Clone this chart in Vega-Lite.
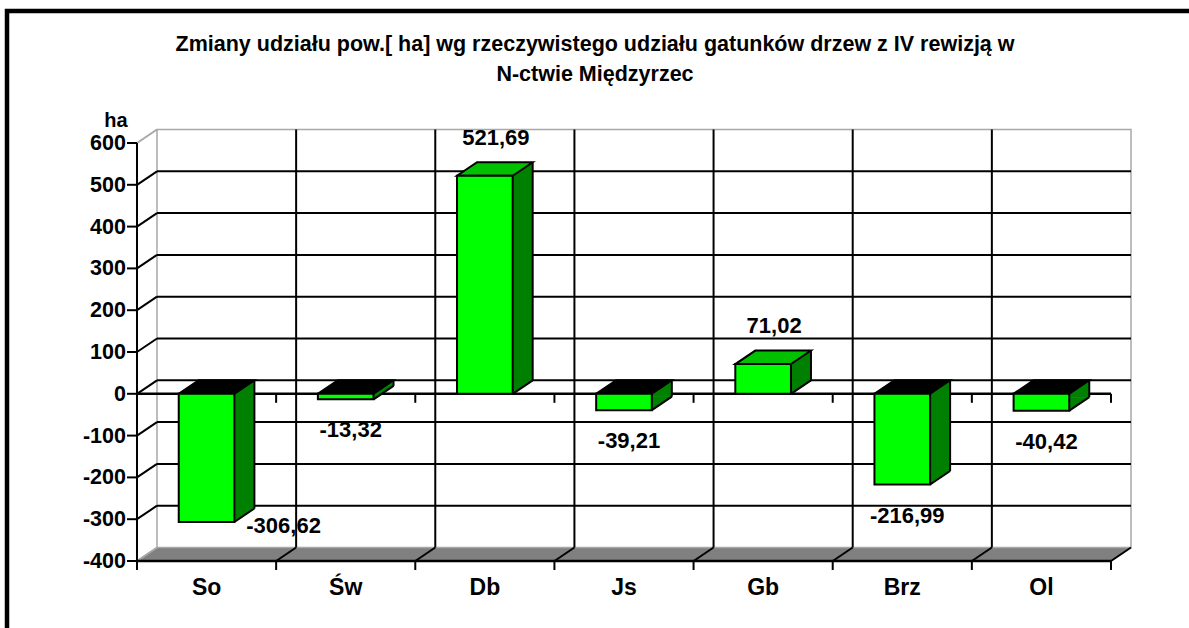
{
  "$schema": "https://vega.github.io/schema/vega-lite/v6.json",
  "width": 1200,
  "height": 630,
  "autosize": {"type": "none"},
  "padding": {"left": 7, "top": 11, "right": 0, "bottom": 0},
  "background": "white",
  "title": {
    "text": ["Zmiany udziału pow.[ ha] wg rzeczywistego udziału gatunków drzew  z IV rewizją w", "N-ctwie Międzyrzec"],
    "anchor": "middle", "font": "Liberation Sans", "fontSize": 21.5, "fontWeight": "bold", "color": "black",
    "lineHeight": 30, "baseline": "top", "offset": -20, "dy": 54, "dx": -12
  },
  "datasets": {
    "bars": [
      {"cat": "So", "v": -306.62},
      {"cat": "Św", "v": -13.32},
      {"cat": "Db", "v": 521.69},
      {"cat": "Js", "v": -39.21},
      {"cat": "Gb", "v": 71.02},
      {"cat": "Brz", "v": -216.99},
      {"cat": "Ol", "v": -40.42}
    ],
    "grid": [
      {"g": -400}, {"g": -300}, {"g": -200}, {"g": -100}, {"g": 0}, {"g": 100},
      {"g": 200}, {"g": 300}, {"g": 400}, {"g": 500}, {"g": 600}
    ]
  },
  "config": {
    "font": "Liberation Sans",
    "view": {"stroke": "black", "strokeWidth": 4.5, "fill": "white"},
    "locale": {"number": {"decimal": ",", "thousands": " ", "grouping": [3], "currency": ["", " zł"], "minus": "-"}}
  },
  "layer": [
    {
      "data": {"name": "bars"},
      "transform": [{"filter": "datum.cat === 'So'"}],
      "mark": {"type": "point", "shape": "M0,0L974,0L994,-13.5L20,-13.5Z", "size": 4, "filled": true, "fill": "#808080", "stroke": "#808080", "strokeWidth": 1, "opacity": 1},
      "encoding": {
        "x": {"field": "cat", "type": "nominal", "bandPosition": 0,
          "scale": {"domain": ["So", "Św", "Db", "Js", "Gb", "Brz", "Ol"], "paddingInner": 0, "paddingOuter": 0.8121, "align": 0.5752, "round": false},
          "axis": null},
        "y": {"datum": -400, "type": "quantitative", "scale": {"domain": [-591.388, 915.789], "nice": false, "zero": false}, "axis": null}
      }
    },
    {
      "data": {"name": "bars"},
      "transform": [{"filter": "datum.cat === 'So'"}],
      "mark": {"type": "rect", "filled": false, "stroke": "#a8a8a8", "strokeWidth": 1.5, "xOffset": 20, "x2Offset": 20, "yOffset": -13.5, "y2Offset": -13.5},
      "encoding": {
        "x": {"datum": "So", "type": "nominal", "bandPosition": 0, "axis": null},
        "x2": {"datum": "Ol", "bandPosition": 1},
        "y": {"datum": -400, "type": "quantitative", "axis": null},
        "y2": {"datum": 600}
      }
    },
    {
      "data": {"name": "grid"},
      "transform": [{"filter": "datum.g > -400 && datum.g < 600"}],
      "mark": {"type": "rule", "stroke": "black", "strokeWidth": 2, "xOffset": 20, "x2Offset": 20, "yOffset": -13.5},
      "encoding": {
        "x": {"datum": "So", "type": "nominal", "bandPosition": 0, "axis": null},
        "x2": {"datum": "Ol", "bandPosition": 1},
        "y": {"field": "g", "type": "quantitative", "axis": null}
      }
    },
    {
      "data": {"name": "grid"},
      "mark": {"type": "point", "shape": "M0,0L20,-13.5", "size": 4, "filled": false, "strokeWidth": 2, "opacity": 1},
      "encoding": {
        "x": {"datum": "So", "type": "nominal", "bandPosition": 0, "axis": null},
        "y": {"field": "g", "type": "quantitative", "axis": null},
        "stroke": {"condition": {"test": "datum.g === 600 || datum.g === -400", "value": "#a8a8a8"}, "value": "black"}
      }
    },
    {
      "data": {"name": "grid"},
      "mark": {"type": "rule", "stroke": "black", "strokeWidth": 2, "xOffset": -10},
      "encoding": {
        "x": {"datum": "So", "type": "nominal", "bandPosition": 0, "axis": null},
        "x2": {"datum": "So", "bandPosition": 0},
        "y": {"field": "g", "type": "quantitative", "axis": null}
      }
    },
    {
      "data": {"name": "grid"},
      "mark": {"type": "text", "fontSize": 21.5, "fontWeight": "bold", "color": "black", "align": "right", "baseline": "middle", "dx": -11, "dy": 1},
      "encoding": {
        "x": {"datum": "So", "type": "nominal", "bandPosition": 0, "axis": null},
        "y": {"field": "g", "type": "quantitative", "axis": null},
        "text": {"field": "g", "type": "quantitative", "format": "d"}
      }
    },
    {
      "data": {"name": "bars"},
      "transform": [{"filter": "datum.cat === 'So'"}],
      "mark": {"type": "text", "text": "ha", "fontSize": 20, "fontWeight": "bold", "color": "black", "align": "center", "baseline": "middle", "dx": -21, "dy": -22},
      "encoding": {
        "x": {"datum": "So", "type": "nominal", "bandPosition": 0, "axis": null},
        "y": {"datum": 600, "type": "quantitative", "axis": null}
      }
    },
    {
      "data": {"name": "bars"},
      "transform": [{"filter": "datum.cat !== 'Ol'"}],
      "mark": {"type": "rule", "stroke": "black", "strokeWidth": 2, "xOffset": 20, "yOffset": -13.5, "y2Offset": -13.5},
      "encoding": {
        "x": {"field": "cat", "type": "nominal", "bandPosition": 1, "axis": null},
        "y": {"datum": -400, "type": "quantitative", "axis": null},
        "y2": {"datum": 600}
      }
    },
    {
      "data": {"name": "bars"},
      "mark": {"type": "point", "shape": "M0,0L20,-13.5", "size": 4, "filled": false, "stroke": "black", "strokeWidth": 2, "opacity": 1},
      "encoding": {
        "x": {"field": "cat", "type": "nominal", "bandPosition": 1, "axis": null},
        "y": {"datum": -400, "type": "quantitative", "axis": null}
      }
    },
    {
      "data": {"name": "bars"},
      "transform": [{"filter": "datum.cat === 'So'"}],
      "mark": {"type": "rule", "stroke": "black", "strokeWidth": 2, "y2Offset": 9},
      "encoding": {
        "x": {"datum": "So", "type": "nominal", "bandPosition": 0, "axis": null},
        "y": {"datum": 600, "type": "quantitative", "axis": null},
        "y2": {"datum": -400}
      }
    },
    {
      "data": {"name": "bars"},
      "mark": {"type": "rule", "stroke": "black", "strokeWidth": 2, "y2Offset": 9},
      "encoding": {
        "x": {"field": "cat", "type": "nominal", "bandPosition": 1, "axis": null},
        "y": {"datum": -400, "type": "quantitative", "axis": null},
        "y2": {"datum": -400}
      }
    },
    {
      "data": {"name": "bars"},
      "mark": {"type": "text", "fontSize": 23, "fontWeight": "bold", "color": "black", "align": "center", "baseline": "middle", "dy": 27},
      "encoding": {
        "x": {"field": "cat", "type": "nominal", "bandPosition": 0.5, "axis": null},
        "y": {"datum": -400, "type": "quantitative", "axis": null},
        "text": {"field": "cat", "type": "nominal"}
      }
    },
    {
      "data": {"name": "grid"},
      "transform": [{"filter": "datum.g === -400 || datum.g === 0"}],
      "mark": {"type": "rule", "stroke": "black", "strokeWidth": 2.5},
      "encoding": {
        "x": {"datum": "So", "type": "nominal", "bandPosition": 0, "axis": null},
        "x2": {"datum": "Ol", "bandPosition": 1},
        "y": {"field": "g", "type": "quantitative", "axis": null}
      }
    },
    {
      "data": {"name": "bars"},
      "mark": {"type": "rule", "stroke": "black", "strokeWidth": 2, "y2Offset": 9},
      "encoding": {
        "x": {"field": "cat", "type": "nominal", "bandPosition": 1, "axis": null},
        "y": {"datum": 0, "type": "quantitative", "axis": null},
        "y2": {"datum": 0}
      }
    },
    {
      "data": {"name": "bars"},
      "mark": {"type": "rect", "fill": "#008000", "x2Offset": 20, "yOffset": -13.5, "y2Offset": -13.5},
      "encoding": {
        "x": {"field": "cat", "type": "nominal", "bandPosition": 0.7, "axis": null},
        "x2": {"field": "cat", "bandPosition": 0.7},
        "y": {"field": "v", "type": "quantitative", "axis": null},
        "y2": {"datum": 0}
      }
    },
    {
      "data": {"name": "bars"},
      "transform": [{"filter": "datum.v > 0"}],
      "mark": {"type": "point", "shape": "M0,0L0,-13.5L20,-13.5Z", "size": 4, "filled": true, "fill": "#008000", "stroke": "#008000", "strokeWidth": 1, "opacity": 1},
      "encoding": {
        "x": {"field": "cat", "type": "nominal", "bandPosition": 0.7, "axis": null},
        "y": {"datum": 0, "type": "quantitative", "axis": null}
      }
    },
    {
      "data": {"name": "bars"},
      "transform": [{"filter": "datum.v < 0"}],
      "mark": {"type": "point", "shape": "M0,0L0,-13.5L20,-13.5Z", "size": 4, "filled": true, "fill": "#008000", "stroke": "#008000", "strokeWidth": 1, "opacity": 1},
      "encoding": {
        "x": {"field": "cat", "type": "nominal", "bandPosition": 0.7, "axis": null},
        "y": {"field": "v", "type": "quantitative", "axis": null}
      }
    },
    {
      "data": {"name": "bars"},
      "mark": {"type": "rule", "stroke": "black", "strokeWidth": 2, "xOffset": 20, "yOffset": -13.5, "y2Offset": -13.5},
      "encoding": {
        "x": {"field": "cat", "type": "nominal", "bandPosition": 0.7, "axis": null},
        "y": {"field": "v", "type": "quantitative", "axis": null},
        "y2": {"datum": 0}
      }
    },
    {
      "data": {"name": "bars"},
      "transform": [{"filter": "datum.v > 0"}],
      "mark": {"type": "point", "shape": "M0,0L20,-13.5", "size": 4, "filled": false, "stroke": "black", "strokeWidth": 2, "opacity": 1},
      "encoding": {
        "x": {"field": "cat", "type": "nominal", "bandPosition": 0.7, "axis": null},
        "y": {"datum": 0, "type": "quantitative", "axis": null}
      }
    },
    {
      "data": {"name": "bars"},
      "transform": [{"filter": "datum.v < 0"}],
      "mark": {"type": "point", "shape": "M0,0L20,-13.5", "size": 4, "filled": false, "stroke": "black", "strokeWidth": 2, "opacity": 1},
      "encoding": {
        "x": {"field": "cat", "type": "nominal", "bandPosition": 0.7, "axis": null},
        "y": {"field": "v", "type": "quantitative", "axis": null}
      }
    },
    {
      "data": {"name": "bars"},
      "transform": [{"filter": "datum.v > 0"}],
      "mark": {"type": "point", "shape": "M0,0L55.66,0L75.66,-13.5L20,-13.5Z", "size": 4, "filled": true, "fill": "#00C000", "stroke": "black", "strokeWidth": 2, "opacity": 1},
      "encoding": {
        "x": {"field": "cat", "type": "nominal", "bandPosition": 0.3, "axis": null},
        "y": {"field": "v", "type": "quantitative", "axis": null}
      }
    },
    {
      "data": {"name": "bars"},
      "transform": [{"filter": "datum.v < 0"}],
      "mark": {"type": "point", "shape": "M0,0L55.66,0L75.66,-13.5L20,-13.5Z", "size": 4, "filled": true, "fill": "black", "stroke": "black", "strokeWidth": 2, "opacity": 1},
      "encoding": {
        "x": {"field": "cat", "type": "nominal", "bandPosition": 0.3, "axis": null},
        "y": {"datum": 0, "type": "quantitative", "axis": null}
      }
    },
    {
      "data": {"name": "bars"},
      "mark": {"type": "rect", "fill": "#00FF00", "stroke": "black", "strokeWidth": 2},
      "encoding": {
        "x": {"field": "cat", "type": "nominal", "bandPosition": 0.3, "axis": null},
        "x2": {"field": "cat", "bandPosition": 0.7},
        "y": {"field": "v", "type": "quantitative", "axis": null},
        "y2": {"datum": 0}
      }
    },
    {
      "data": {"name": "bars"},
      "transform": [{"filter": "datum.v > 0"}],
      "mark": {"type": "text", "fontSize": 22, "fontWeight": "bold", "color": "black", "align": "center", "baseline": "middle", "dx": 11, "dy": -38},
      "encoding": {
        "x": {"field": "cat", "type": "nominal", "bandPosition": 0.5, "axis": null},
        "y": {"field": "v", "type": "quantitative", "axis": null},
        "text": {"field": "v", "type": "quantitative", "format": ".2f"}
      }
    },
    {
      "data": {"name": "bars"},
      "transform": [{"filter": "datum.v < 0 && datum.cat !== 'So'"}],
      "mark": {"type": "text", "fontSize": 22, "fontWeight": "bold", "color": "black", "align": "center", "baseline": "middle", "dx": 5, "dy": 31},
      "encoding": {
        "x": {"field": "cat", "type": "nominal", "bandPosition": 0.5, "axis": null},
        "y": {"field": "v", "type": "quantitative", "axis": null},
        "text": {"field": "v", "type": "quantitative", "format": ".2f"}
      }
    },
    {
      "data": {"name": "bars"},
      "transform": [{"filter": "datum.cat === 'So'"}],
      "mark": {"type": "text", "fontSize": 22, "fontWeight": "bold", "color": "black", "align": "center", "baseline": "middle", "dx": 77, "dy": 4},
      "encoding": {
        "x": {"field": "cat", "type": "nominal", "bandPosition": 0.5, "axis": null},
        "y": {"field": "v", "type": "quantitative", "axis": null},
        "text": {"field": "v", "type": "quantitative", "format": ".2f"}
      }
    }
  ]
}
